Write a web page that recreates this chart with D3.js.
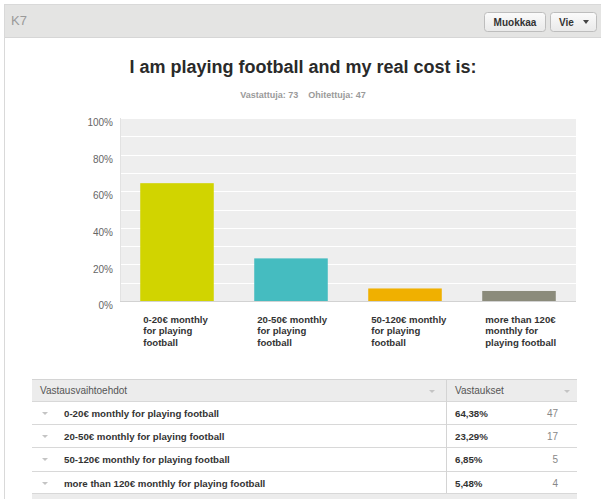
<!DOCTYPE html>
<html>
<head>
<meta charset="utf-8">
<script src="https://cdn.jsdelivr.net/npm/d3@7"></script>
<style>
  html, body { margin: 0; padding: 0; background: #ffffff; }
  svg { display: block; font-family: "Liberation Sans", Arial, Helvetica, sans-serif; }
</style>
</head>
<body>
<svg id="chart" width="601" height="499"></svg>
<script>
// Question and response summary
const questionId = "K7";
const titleText = "I am playing football and my real cost is:";
const answeredLabel = "Vastattuja: 73";
const skippedLabel = "Ohitettuja: 47";

// Answer choices
const categories = [
  "0-20€ monthly for playing football",
  "20-50€ monthly for playing football",
  "50-120€ monthly for playing football",
  "more than 120€ monthly for playing football"
];
// Wrapped axis labels under each bar
const axisLabelLines = [
  ["0-20€ monthly", "for playing", "football"],
  ["20-50€ monthly", "for playing", "football"],
  ["50-120€ monthly", "for playing", "football"],
  ["more than 120€", "monthly for", "playing football"]
];
const percents = [64.38, 23.29, 6.85, 5.48];
const percentLabels = ["64,38%", "23,29%", "6,85%", "5,48%"];
const counts = [47, 17, 5, 4];
const barColors = ["#d1d400", "#45bcc0", "#f0b000", "#8b8b7b"];
const yTicks = [0, 20, 40, 60, 80, 100];
const gridValues = [10, 20, 30, 40, 50, 60, 70, 80, 90, 100];

// Table texts
const tableHeaders = ["Vastausvaihtoehdot", "Vastaukset"];
const buttonLabels = ["Muokkaa", "Vie"];

const svg = d3.select("#chart");

// ---- card + header bar ----
svg.append("rect").attr("x", 4.5).attr("y", 4.5).attr("width", 600).attr("height", 500)
  .attr("fill", "#ffffff").attr("stroke", "#d9d9d9");
svg.append("rect").attr("x", 5).attr("y", 5).attr("width", 596).attr("height", 32)
  .attr("fill", "#e4e4e3");
svg.append("line").attr("x1", 5).attr("x2", 601).attr("y1", 37.5).attr("y2", 37.5)
  .attr("stroke", "#d6d6d6");
svg.append("text").attr("x", 11).attr("y", 25).text(questionId)
  .attr("font-size", 13).attr("fill", "#9a9a9a");

// buttons
const defs = svg.append("defs");
const grad = defs.append("linearGradient").attr("id", "btn").attr("x1", 0).attr("x2", 0).attr("y1", 0).attr("y2", 1);
grad.append("stop").attr("offset", "0%").attr("stop-color", "#fbfbfb");
grad.append("stop").attr("offset", "100%").attr("stop-color", "#e9e9e9");
const btns = [
  { x: 484, w: 61, label: buttonLabels[0] },
  { x: 550, w: 46, label: buttonLabels[1] }
];
btns.forEach((b, i) => {
  svg.append("rect").attr("x", b.x + 0.5).attr("y", 12.5).attr("width", b.w).attr("height", 19)
    .attr("rx", 3).attr("fill", "url(#btn)").attr("stroke", "#bdbdbd");
  if (i === 0) {
    svg.append("text").attr("x", b.x + b.w / 2 + 0.5).attr("y", 25.5).attr("text-anchor", "middle")
      .attr("font-size", 10).attr("font-weight", "bold").attr("fill", "#333").text(b.label);
  } else {
    svg.append("text").attr("x", b.x + 9).attr("y", 25.5)
      .attr("font-size", 10).attr("font-weight", "bold").attr("fill", "#333").text(b.label);
    svg.append("path").attr("d", `M${b.x + 33},${20} l6,0 l-3,4 z`).attr("fill", "#444");
  }
});

// ---- title ----
svg.append("text").attr("x", 303).attr("y", 73).attr("text-anchor", "middle")
  .attr("font-size", 18).attr("font-weight", "bold").attr("fill", "#2a2a2a").text(titleText);
svg.append("text").attr("x", 303).attr("y", 98).attr("text-anchor", "middle")
  .attr("font-size", 9).attr("font-weight", "bold").attr("fill", "#9a9a9a")
  .text(answeredLabel + "\u00a0\u00a0\u00a0\u00a0" + skippedLabel);

// ---- bar chart ----
const plot = { left: 120, right: 576, top: 118, bottom: 301 };
const x = d3.scaleBand().domain(categories).range([plot.left, plot.right])
  .paddingInner(0.355).paddingOuter(0.1775);
const y = d3.scaleLinear().domain([0, 100]).range([plot.bottom, plot.top]);

svg.append("rect").attr("x", plot.left).attr("y", plot.top)
  .attr("width", plot.right - plot.left).attr("height", plot.bottom - plot.top)
  .attr("fill", "#eeeeee");
svg.append("line").attr("x1", plot.left + 0.5).attr("x2", plot.left + 0.5)
  .attr("y1", plot.top).attr("y2", plot.bottom).attr("stroke", "#e2e2e2");

svg.append("g").selectAll("line").data(gridValues).join("line")
  .attr("x1", plot.left + 1).attr("x2", plot.right)
  .attr("y1", d => Math.round(y(d)) + 0.5).attr("y2", d => Math.round(y(d)) + 0.5)
  .attr("stroke", "#ffffff").attr("stroke-width", 1);

// y axis labels sit slightly below their gridline
const yAxis = d3.axisLeft(y).tickValues(yTicks).tickFormat(d => d + "%").tickSize(0).tickPadding(7);
const yg = svg.append("g").attr("transform", `translate(${plot.left},4.5)`).call(yAxis);
yg.select(".domain").remove();
yg.selectAll("text").attr("font-size", 10).attr("fill", "#666")
  .attr("font-family", "\"Liberation Sans\", Arial, sans-serif");

svg.append("g").selectAll("rect").data(categories).join("rect")
  .attr("x", d => x(d)).attr("width", x.bandwidth())
  .attr("y", (d, i) => y(percents[i])).attr("height", (d, i) => y(0) - y(percents[i]))
  .attr("fill", (d, i) => barColors[i]);

svg.append("line").attr("x1", plot.left).attr("x2", plot.right)
  .attr("y1", plot.bottom + 0.5).attr("y2", plot.bottom + 0.5).attr("stroke", "#d2d2d2");

// category labels under bars
const lab = svg.append("g").selectAll("text").data(categories).join("text")
  .attr("x", d => x(d) + 3).attr("y", 323)
  .attr("font-size", 9.6).attr("font-weight", "bold").attr("fill", "#333");
lab.each(function (d, i) {
  d3.select(this).selectAll("tspan").data(axisLabelLines[i]).join("tspan")
    .attr("x", x(d) + 3).attr("dy", (t, j) => j === 0 ? 0 : 11.3).text(t => t);
});

// ---- response table ----
const table = { left: 32, right: 577, divider: 446, top: 379, headerH: 22 };
const rowTops = [401, 424, 447, 471];
const rowBottom = 493;
const row = d3.scaleOrdinal().domain(categories).range(rowTops);

svg.append("rect").attr("x", table.left).attr("y", table.top)
  .attr("width", table.right - table.left).attr("height", table.headerH).attr("fill", "#ececec");
svg.append("rect").attr("x", table.left).attr("y", rowBottom)
  .attr("width", table.right - table.left).attr("height", 499 - rowBottom).attr("fill", "#ececec");
svg.append("line").attr("x1", table.left).attr("x2", table.right)
  .attr("y1", table.top + 0.5).attr("y2", table.top + 0.5).attr("stroke", "#d4d4d4");

svg.append("g").selectAll("line").data([...rowTops, rowBottom]).join("line")
  .attr("x1", table.left).attr("x2", table.right)
  .attr("y1", d => d + 0.5).attr("y2", d => d + 0.5).attr("stroke", "#d8d8d8");
svg.append("line").attr("x1", table.divider + 0.5).attr("x2", table.divider + 0.5)
  .attr("y1", table.top).attr("y2", rowBottom).attr("stroke", "#d4d4d4");

// header texts + sort arrows
svg.append("text").attr("x", 40).attr("y", 394).attr("font-size", 10).attr("fill", "#555").text(tableHeaders[0]);
svg.append("text").attr("x", 455).attr("y", 394).attr("font-size", 10).attr("fill", "#555").text(tableHeaders[1]);
[432, 567].forEach(ax => {
  svg.append("path").attr("d", `M${ax - 3},${390} l6,0 l-3,3 z`).attr("fill", "#c4c4c4");
});

const rows = svg.append("g").selectAll("g").data(categories).join("g")
  .attr("transform", d => `translate(0,${row(d)})`);
rows.append("path").attr("d", "M42,11 l6,0 l-3,3 z").attr("fill", "#c4c4c4");
rows.append("text").attr("x", 64).attr("y", 15.5).attr("font-size", 9.7).attr("font-weight", "bold")
  .attr("fill", "#333").text(d => d);
rows.append("text").attr("x", 455).attr("y", 15.5).attr("font-size", 9.7).attr("font-weight", "bold")
  .attr("fill", "#333").text((d, i) => percentLabels[i]);
rows.append("text").attr("x", 558).attr("y", 15.5).attr("text-anchor", "end").attr("font-size", 10)
  .attr("fill", "#888").text((d, i) => counts[i]);
</script>
</body>
</html>
